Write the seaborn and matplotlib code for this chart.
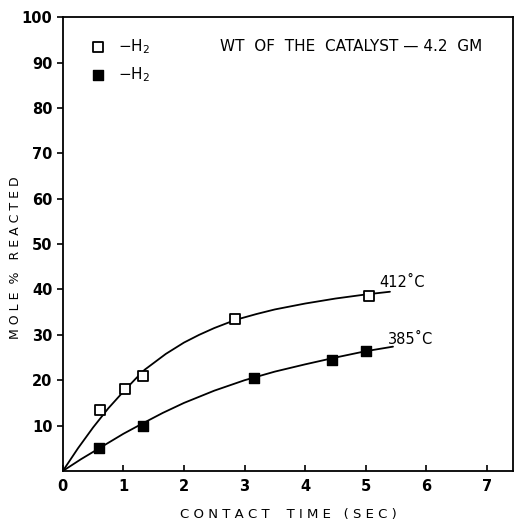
import matplotlib
matplotlib.use("Agg")
import matplotlib.pyplot as plt
import seaborn as sns
import pandas as pd

# measured points
t_412 = [0.62, 1.02, 1.33, 2.85, 5.05]
y_412 = [13.5, 18.0, 21.0, 33.5, 38.5]
t_385 = [0.60, 1.32, 3.15, 4.45, 5.00]
y_385 = [5.0, 10.0, 20.5, 24.5, 26.5]

# fitted curves
curve_t_412 = [0, 0.25, 0.5, 0.75, 1.0, 1.2, 1.35, 1.5, 1.7, 2.0, 2.25, 2.5, 2.85, 3.2, 3.5, 4.0, 4.5, 5.0, 5.4]
curve_y_412 = [0, 5.0, 9.6, 13.8, 17.5, 20.3, 22.3, 23.8, 25.8, 28.3, 30.0, 31.5, 33.3, 34.6, 35.6, 36.9, 38.0, 38.9, 39.5]
curve_t_385 = [0, 0.3, 0.6, 1.0, 1.32, 1.65, 2.0, 2.5, 3.0, 3.5, 4.0, 4.5, 5.0, 5.45]
curve_y_385 = [0, 2.6, 5.0, 8.2, 10.5, 12.8, 15.0, 17.7, 20.0, 21.9, 23.5, 25.0, 26.4, 27.4]

x_ticks = [0, 1, 2, 3, 4, 5, 6, 7]
y_ticks = [10, 20, 30, 40, 50, 60, 70, 80, 90, 100]

sns.set_style("ticks")
plt.rcParams["font.family"] = ["DejaVu Sans"]
plt.rcParams["text.color"] = "black"
plt.rcParams["axes.labelcolor"] = "black"
plt.rcParams["xtick.color"] = "black"
plt.rcParams["ytick.color"] = "black"
plt.rcParams["axes.edgecolor"] = "black"

fig = plt.figure(figsize=(5.15, 5.21), dpi=100)
ax = fig.add_axes([0.122, 0.096, 0.874, 0.871])

pts_412 = pd.DataFrame({"t": t_412, "y": y_412})
pts_385 = pd.DataFrame({"t": t_385, "y": y_385})

sns.lineplot(x=curve_t_412, y=curve_y_412, sort=False, color="black", linewidth=1.3, ax=ax)
sns.lineplot(x=curve_t_385, y=curve_y_385, sort=False, color="black", linewidth=1.3, ax=ax)
sns.scatterplot(data=pts_412, x="t", y="y", marker="s", s=55, facecolor="white",
                edgecolor="black", linewidth=1.3, zorder=3, ax=ax, label=r"$-\mathrm{H_2}$")
sns.scatterplot(data=pts_385, x="t", y="y", marker="s", s=55, color="black",
                edgecolor="black", linewidth=1.0, zorder=3, ax=ax, label=r"$-\mathrm{H_2}$")

ax.set_xlim(0, 7.43)
ax.set_ylim(0, 100)
ax.set_xticks(x_ticks)
ax.set_yticks(y_ticks)
ax.set_xticklabels([str(v) for v in x_ticks], fontsize=10.5, fontweight="bold")
ax.set_yticklabels([str(v) for v in y_ticks], fontsize=10.5, fontweight="bold")
ax.tick_params(axis="x", direction="in", length=4, width=1.2, pad=6)
ax.tick_params(axis="y", direction="out", length=4, width=1.2)
for sp in ax.spines.values():
    sp.set_linewidth(1.3)

ax.set_xlabel("C O N T A C T    T I M E   ( S E C )", fontsize=9.5, labelpad=10)
ax.set_ylabel("M O L E  %   R E A C T E D", fontsize=9, labelpad=5)
ax.yaxis.set_label_coords(-0.09, 0.47)

ax.legend(loc="upper left", frameon=False, fontsize=11, handletextpad=0.3,
          labelspacing=0.6, borderaxespad=0.6, bbox_to_anchor=(0.01, 0.99))

ax.text(2.6, 93.5, "WT  OF  THE  CATALYST \u2014 4.2  GM", fontsize=11, va="center")
ax.text(5.23, 41.5, "412\u02daC", fontsize=10.5, va="center")
ax.text(5.36, 29.0, "385\u02daC", fontsize=10.5, va="center")

fig.savefig("out.png", dpi=100)
